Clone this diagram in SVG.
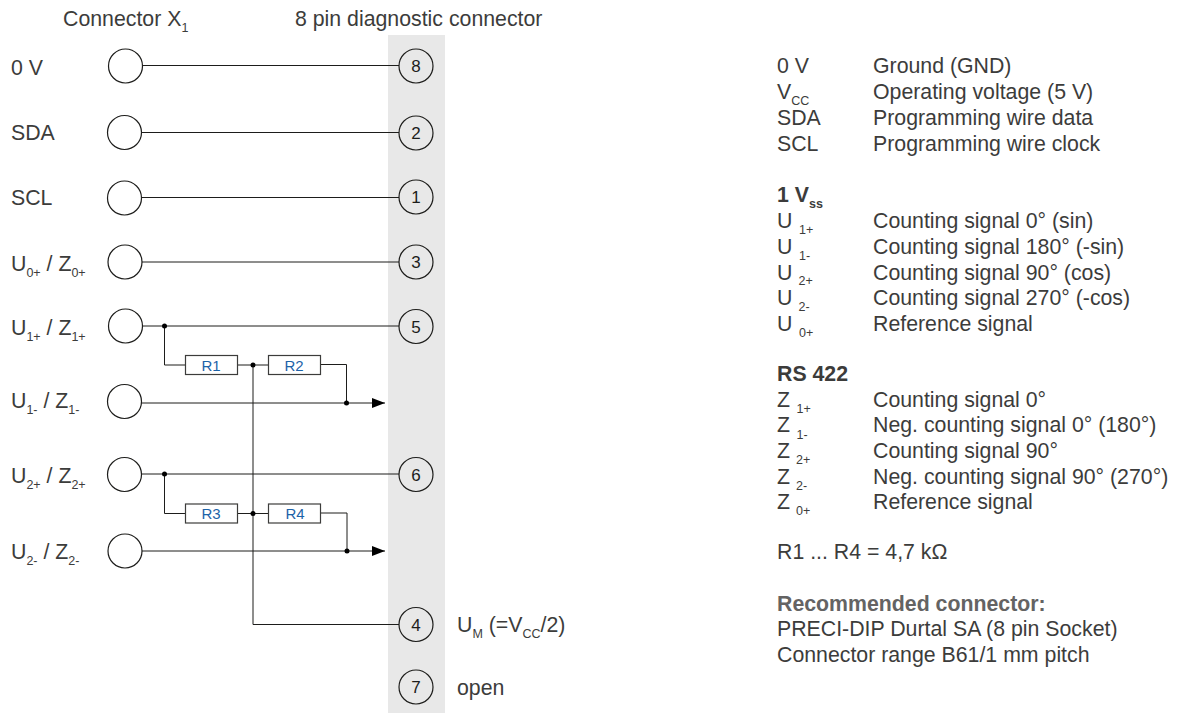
<svg xmlns="http://www.w3.org/2000/svg" width="1184" height="713" viewBox="0 0 1184 713">
<style>
text{font-family:"Liberation Sans",Arial,sans-serif;font-size:21.3px;fill:#3c3c3b}
text.s,tspan.s{font-size:12.5px}
.b{font-weight:bold}
text.g{fill:#646363}
.c{fill:#fff;stroke:#1d1d1b;stroke-width:1.2}
.p{fill:none;stroke:#1d1d1b;stroke-width:1.2}
.w{fill:none;stroke:#1d1d1b;stroke-width:1}
.d{fill:#000}
.r{fill:#fff;stroke:#3c3c3b;stroke-width:1.2}
text.rt{font-size:15px;fill:#1d63a8;text-anchor:middle}
text.n{font-size:17px;fill:#1d1d1b;text-anchor:middle}
</style>
<defs><marker id="arr" markerUnits="userSpaceOnUse" markerWidth="14" markerHeight="12" refX="13" refY="6" orient="auto"><path d="M0 1L13 6L0 11Z" fill="#000"/></marker></defs>
<rect id="band" x="388" y="35" width="57" height="678" fill="#e8e8e8"/>
<g id="connectors">
<path class="w" d="M142 65.500H399M141 132.500H399M141 197.500H399M141 262H399"/>
<path class="w" d="M142 326H399M164.500 326V365H186"/>
<path class="w" d="M237 365H268M320 364.500H346.500V403"/>
<path class="w" d="M141 403H385" marker-end="url(#arr)"/>
<path class="w" d="M253 365V624.500H399"/>
<path class="w" d="M141 474H399M164.500 474V513.500H186"/>
<path class="w" d="M237 513.500H268M320 513H347V551"/>
<path class="w" d="M142 551H385" marker-end="url(#arr)"/>
<circle class="d" cx="164.500" cy="326" r="2.500"/><circle class="d" cx="253" cy="365" r="2.500"/><circle class="d" cx="346.500" cy="403" r="2.500"/>
<circle class="d" cx="164.500" cy="474" r="2.500"/><circle class="d" cx="253" cy="513.500" r="2.500"/><circle class="d" cx="347" cy="551" r="2.500"/>
</g>
<g id="x8"><circle class="c" cx="125.500" cy="66" r="17"/></g>
<g id="x2"><circle class="c" cx="124.500" cy="132.500" r="17"/></g>
<g id="x1"><circle class="c" cx="124.500" cy="198" r="17"/></g>
<g id="x3"><circle class="c" cx="125" cy="262" r="17"/></g>
<g id="x5"><circle class="c" cx="125.500" cy="326" r="17"/></g>
<g id="x_u1m"><circle class="c" cx="124.500" cy="401.500" r="17"/></g>
<g id="x6"><circle class="c" cx="124.500" cy="474.500" r="17"/></g>
<g id="x_u2m"><circle class="c" cx="125" cy="551" r="17"/></g>
<g id="pin8"><circle class="p" cx="416" cy="66" r="17"/><text class="n" x="416" y="72">8</text></g>
<g id="pin2"><circle class="p" cx="416" cy="133" r="17"/><text class="n" x="416" y="139">2</text></g>
<g id="pin1"><circle class="p" cx="416" cy="197" r="17"/><text class="n" x="416" y="203">1</text></g>
<g id="pin3"><circle class="p" cx="416" cy="262" r="17"/><text class="n" x="416" y="268">3</text></g>
<g id="pin5"><circle class="p" cx="416" cy="326.500" r="17"/><text class="n" x="416" y="332.500">5</text></g>
<g id="pin6"><circle class="p" cx="416" cy="474.500" r="17"/><text class="n" x="416" y="480.500">6</text></g>
<g id="pin4"><circle class="p" cx="416" cy="624.500" r="17"/><text class="n" x="416" y="630.500">4</text></g>
<g id="pin7"><circle class="p" cx="416" cy="687" r="17"/><text class="n" x="416" y="693">7</text></g>
<g id="R1"><rect class="r" x="185.500" y="355.500" width="52" height="19"/><text class="rt" x="211" y="370.500">R1</text></g>
<g id="R2"><rect class="r" x="268.500" y="355.500" width="52" height="19"/><text class="rt" x="294" y="370.500">R2</text></g>
<g id="R3"><rect class="r" x="185.500" y="504" width="52" height="19"/><text class="rt" x="211" y="519">R3</text></g>
<g id="R4"><rect class="r" x="268.500" y="504" width="52" height="19"/><text class="rt" x="295" y="519">R4</text></g>
<g id="labels">
<text x="63" y="26">Connector X<tspan class="s" dy="6">1</tspan></text>
<text x="295" y="26">8 pin diagnostic connector</text>
<text x="11" y="75">0 V</text>
<text x="11" y="140">SDA</text>
<text x="11" y="205">SCL</text>
<text x="11" y="271">U<tspan class="s" dy="6">0+</tspan><tspan dy="-6"> / Z</tspan><tspan class="s" dy="6">0+</tspan></text>
<text x="11" y="335">U<tspan class="s" dy="6">1+</tspan><tspan dy="-6"> / Z</tspan><tspan class="s" dy="6">1+</tspan></text>
<text x="11" y="408">U<tspan class="s" dy="6">1-</tspan><tspan dy="-6"> / Z</tspan><tspan class="s" dy="6">1-</tspan></text>
<text x="11" y="483">U<tspan class="s" dy="6">2+</tspan><tspan dy="-6"> / Z</tspan><tspan class="s" dy="6">2+</tspan></text>
<text x="11" y="559">U<tspan class="s" dy="6">2-</tspan><tspan dy="-6"> / Z</tspan><tspan class="s" dy="6">2-</tspan></text>
<text x="457" y="632">U<tspan class="s" dy="6">M</tspan><tspan dy="-6"> (=V</tspan><tspan class="s" dy="6">CC</tspan><tspan dy="-6">/2)</tspan></text>
<text x="457" y="695">open</text>
</g>
<g id="legend">
<text x="777" y="73">0 V</text><text x="873" y="73">Ground (GND)</text>
<text x="777" y="99">V<tspan class="s" dy="6">CC</tspan></text><text x="873" y="99">Operating voltage (5 V)</text>
<text x="777" y="125">SDA</text><text x="873" y="125">Programming wire data</text>
<text x="777" y="151">SCL</text><text x="873" y="151">Programming wire clock</text>
<text class="b" x="777" y="202">1 V<tspan class="s" dy="6">ss</tspan></text>
<text x="777" y="228">U</text><text class="s" x="799" y="234">1+</text><text x="873" y="228">Counting signal 0° (sin)</text>
<text x="777" y="254">U</text><text class="s" x="799" y="260">1-</text><text x="873" y="254">Counting signal 180° (-sin)</text>
<text x="777" y="280">U</text><text class="s" x="798.500" y="285">2+</text><text x="873" y="280">Counting signal 90° (cos)</text>
<text x="777" y="305">U</text><text class="s" x="798.500" y="311">2-</text><text x="873" y="305">Counting signal 270° (-cos)</text>
<text x="777" y="331">U</text><text class="s" x="799" y="337">0+</text><text x="873" y="331">Reference signal</text>
<text class="b" x="777" y="381">RS 422</text>
<text x="777" y="407">Z</text><text class="s" x="796.500" y="413">1+</text><text x="873" y="407">Counting signal 0°</text>
<text x="777" y="432">Z</text><text class="s" x="796.500" y="439">1-</text><text x="873" y="432">Neg. counting signal 0° (180°)</text>
<text x="777" y="458">Z</text><text class="s" x="796" y="464">2+</text><text x="873" y="458">Counting signal 90°</text>
<text x="777" y="484">Z</text><text class="s" x="796" y="490">2-</text><text x="873" y="484">Neg. counting signal 90° (270°)</text>
<text x="777" y="509">Z</text><text class="s" x="796" y="515">0+</text><text x="873" y="509">Reference signal</text>
<text x="777" y="559">R1 ... R4 = 4,7 kΩ</text>
<text class="b g" x="777" y="611">Recommended connector:</text>
<text x="777" y="636">PRECI-DIP Durtal SA (8 pin Socket)</text>
<text x="777" y="662">Connector range B61/1 mm pitch</text>
</g>
</svg>
